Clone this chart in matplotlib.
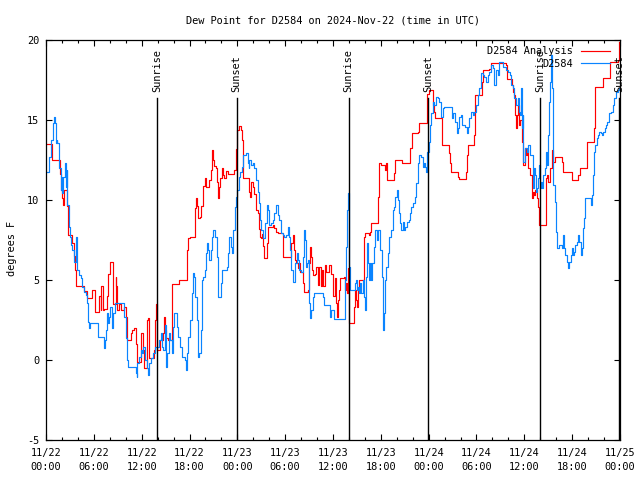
import matplotlib
matplotlib.use("Agg")
import matplotlib.pyplot as plt
from matplotlib.ticker import FixedLocator, MultipleLocator

# ---- data (hours since 2024-11-22 00:00 UTC, degrees F) ----
red_hours = [0.0, 0.6, 0.7, 1.6, 1.8, 1.9, 2.0, 2.1, 2.3, 2.5, 2.6, 2.7, 2.8, 3.1, 3.3, 3.5, 3.7, 3.8, 4.7, 4.8,
             5.1, 5.2, 5.6, 5.8, 6.0, 6.2, 6.4, 6.6, 6.9, 6.95, 7.1, 7.3, 7.5, 7.6, 7.8, 8.0, 8.3, 8.45, 8.6, 8.75,
             8.8, 8.95, 9.15, 9.35, 9.7, 9.8, 10.0, 10.1, 10.4, 10.6, 10.8, 11.0, 11.25, 11.45, 11.7, 11.9, 12.1, 12.2,
             12.3, 12.65, 12.7, 12.85, 12.9, 13.45, 13.55, 13.67, 13.8, 13.88, 14.1, 14.3, 14.5, 14.63, 14.8, 14.93,
             15.05, 15.35, 15.65, 15.75, 15.85, 16.6, 16.72, 17.65, 17.73, 17.85, 18.0, 18.57, 18.7, 18.82, 18.98,
             19.1, 19.3, 19.4, 19.53, 19.74, 19.95, 20.07, 20.36, 20.5, 20.66, 20.78, 20.9, 21.07, 21.33, 21.5, 21.62,
             21.74, 21.83, 22.04, 22.25, 22.37, 22.58, 22.87, 23.3, 23.63, 23.83, 24.0, 24.17, 24.34, 24.47, 24.59,
             24.68, 25.3, 25.43, 25.6, 25.72, 25.93, 26.14, 26.35, 26.56, 26.77, 26.85, 26.98, 27.1, 27.19, 27.4,
             27.6, 27.69, 27.81, 28.44, 28.65, 28.86, 29.07, 29.61, 29.7, 30.53, 30.74, 30.95, 31.08, 31.2, 31.37,
             31.58, 31.7, 31.87, 32.08, 32.2, 32.41, 32.83, 32.96, 33.12, 33.25, 33.38, 33.54, 33.71, 33.88, 34.09,
             34.3, 34.46, 34.63, 34.8, 34.97, 35.13, 35.34, 35.55, 35.76, 35.97, 36.05, 36.21, 36.38, 36.51, 36.63,
             36.8, 36.93, 37.34, 37.47, 37.64, 37.76, 37.89, 37.97, 38.47, 38.6, 38.72, 38.89, 39.02, 39.14, 39.23,
             39.73, 39.85, 39.98, 40.48, 40.69, 40.82, 41.53, 41.65, 41.82, 42.07, 42.36, 42.49, 42.66, 42.78, 43.41,
             43.62, 43.83, 44.45, 44.66, 45.58, 45.71, 45.92, 46.55, 46.67, 46.84, 47.67, 47.75, 47.85, 48.0, 48.31,
             48.52, 48.6, 48.73, 48.85, 49.56, 49.69, 50.52, 50.61, 50.73, 50.82, 51.65, 51.74, 51.86, 52.62, 52.7,
             52.82, 52.91, 53.54, 53.74, 53.87, 54.58, 54.71, 54.87, 55.63, 55.84, 57.72, 57.8, 58.35, 58.47, 58.64,
             58.76, 58.89, 58.97, 59.06, 59.18, 59.31, 59.47, 59.68, 59.89, 60.1, 60.22, 60.39, 60.52, 60.72, 60.93,
             61.06, 61.23, 61.35, 61.56, 61.77, 61.9, 62.61, 62.73, 62.9, 63.03, 63.23, 63.44, 63.65, 63.86, 64.57,
             64.7, 64.91, 65.74, 65.95, 66.66, 66.79, 67.0, 67.63, 67.83, 68.67, 68.75, 68.88, 69.72, 69.84, 70.68,
             70.76, 71.8, 71.93]
red_values = [13.5, 13.5, 12.5, 12.5, 11.6, 10.6, 10.1, 9.7, 10.6, 10.6, 9.6, 8.5, 7.8, 7.8, 7.3, 6.5, 5.6, 4.6, 4.6, 4.3,
              4.3, 3.9, 3.9, 4.4, 4.4, 3.0, 3.0, 4.0, 3.1, 4.6, 3.1, 3.2, 3.2, 4.0, 5.4, 6.1, 6.1, 3.5, 3.5, 5.2,
              4.6, 3.1, 3.5, 3.1, 3.1, 3.3, 2.7, 1.25, 1.25, 1.7, 1.9, 2.0, 1.0, -0.1, -0.1, 1.7, 1.7, 0.6,
              -0.5, -0.5, 2.5, 2.6, 0.1, 0.1, 0.6, 2.5, 3.5, 0.6, 0.6, 1.25, 1.25, 1.7, 2.7, 1.9,
              1.35, 1.25, 1.25, 3.85, 4.75, 4.75, 5.0, 5.0, 6.9, 7.6, 7.7, 7.7, 9.5, 10.1, 9.6,
              8.85, 8.95, 9.6, 9.6, 10.9, 11.35, 10.8, 10.8, 11.25, 11.9, 13.1, 12.5, 12.1, 12.0, 11.15, 10.1,
              10.8, 11.35, 12.0, 11.55, 11.35, 11.8, 11.65, 11.65, 11.9, 13.2, 14.4, 14.6, 14.6, 14.4, 13.75,
              11.35, 11.35, 10.5, 10.2, 11.15, 10.8, 10.4, 9.4, 9.2, 8.2, 7.7, 7.6, 7.9, 7.1, 6.35,
              6.35, 7.3, 8.33, 8.44, 8.23, 8.0, 7.96, 7.96, 6.46, 6.46, 7.3, 7.8, 6.9, 6.25, 6.04,
              5.73, 6.04, 5.5, 5.5, 4.8, 4.27, 4.4, 6.04, 7.08, 6.46, 5.6, 5.3, 5.4, 5.83, 4.7,
              5.83, 4.6, 5.6, 4.6, 5.94, 5.5, 5.5, 5.94, 5.4, 5.2, 4.0, 5.1, 3.54, 2.7, 3.75,
              4.38, 5.1, 5.2, 4.38, 4.8, 4.17, 5.73, 2.3, 2.33, 3.33, 4.38, 3.75, 3.33, 4.38, 5.0,
              5.0, 7.7, 7.92, 7.8, 8.02, 8.54, 8.58, 10.2, 12.29, 12.19, 12.19, 11.88, 12.29, 11.25, 11.25,
              11.67, 12.5, 12.5, 12.29, 12.29, 13.23, 14.17, 14.17, 14.27, 14.79, 14.83, 15.6, 16.6, 16.88, 16.88,
              16.77, 15.94, 15.52, 15.1, 15.1, 13.44, 13.44, 12.92, 12.29, 11.77, 11.77, 11.46, 11.29, 11.29, 11.77,
              12.81, 13.44, 13.44, 14.06, 16.56, 16.56, 17.4, 18.13, 18.19, 18.54, 18.44, 17.56, 17.56, 17.19, 16.77,
              16.56, 15.31, 14.48, 15.31, 15.94, 14.69, 15.0, 13.65, 12.19, 13.23, 12.81, 13.1, 11.98, 11.56, 10.1,
              10.52, 10.31, 10.6, 10.1, 9.58, 8.44, 8.44, 11.35, 11.56, 11.15, 11.98, 13.13, 12.4, 12.71, 12.71,
              12.4, 11.77, 11.77, 11.25, 11.25, 11.56, 11.98, 11.98, 13.65, 13.65, 14.48, 17.08, 17.08, 17.6, 17.65,
              18.65, 18.75, 19.9]

blue_hours = [0.08, 0.38, 0.67, 0.92, 1.0, 1.13, 1.21, 1.34, 1.42, 1.63, 1.84, 1.97, 2.05, 2.17, 2.34, 2.47, 2.59,
              2.68, 2.89, 3.01, 3.1, 3.3, 3.51, 3.72, 3.85, 3.93, 4.14, 4.35, 4.56, 4.77, 4.98, 5.19, 5.27, 5.4,
              5.52, 6.44, 6.52, 7.07, 7.28, 7.4, 7.49, 7.61, 7.78, 7.9, 8.03, 8.24, 8.45, 8.62, 9.7, 9.79, 10.0,
              10.2, 10.33, 11.04, 11.25, 11.38, 11.46, 11.67, 11.88, 12.0, 12.12, 12.29, 12.42, 12.63, 12.84, 12.96,
              13.13, 13.38, 13.67, 14.09, 14.22, 14.38, 14.51, 14.72, 14.93, 15.05, 15.22, 15.47, 15.55, 15.76,
              15.89, 16.06, 16.31, 16.47, 16.6, 16.81, 17.02, 17.44, 17.56, 17.73, 17.85, 18.06, 18.27, 18.48,
              18.61, 18.73, 18.9, 19.11, 19.23, 19.4, 19.53, 19.74, 19.95, 20.07, 20.24, 20.36, 20.49, 20.66,
              20.78, 20.99, 21.2, 21.41, 21.62, 21.83, 21.91, 22.04, 22.66, 22.87, 23.0, 23.17, 23.29, 23.5, 23.71,
              23.84, 23.97, 24.17, 24.34, 24.59, 24.76, 25.09, 25.3, 25.43, 25.51, 25.72, 25.93, 26.14, 26.35,
              26.56, 26.77, 26.85, 26.98, 27.19, 27.4, 27.52, 27.69, 27.81, 27.94, 28.02, 28.23, 28.44, 28.65,
              28.86, 29.07, 29.28, 29.49, 29.7, 29.9, 30.11, 30.32, 30.45, 30.62, 30.74, 30.95, 31.16, 31.28,
              31.45, 31.58, 31.79, 32.0, 32.2, 32.41, 32.54, 32.62, 32.71, 32.83, 32.96, 33.04, 33.17, 33.29,
              33.46, 33.67, 34.63, 34.71, 34.92, 35.47, 35.63, 35.76, 35.97, 36.09, 37.34, 37.47, 37.64, 37.76,
              37.85, 37.97, 38.18, 38.6, 38.72, 38.89, 39.02, 39.14, 39.31, 39.43, 39.56, 39.73, 39.85, 40.06,
              40.15, 40.27, 40.4, 40.56, 40.69, 40.82, 40.9, 41.11, 41.32, 41.53, 41.65, 41.82, 41.94, 42.15,
              42.28, 42.4, 42.49, 42.66, 42.91, 43.07, 43.32, 43.49, 43.66, 43.83, 44.04, 44.16, 44.33, 44.45,
              44.58, 44.75, 44.87, 45.08, 45.29, 45.5, 45.71, 45.83, 46.0, 46.25, 46.42, 46.67, 46.84, 47.09,
              47.26, 47.42, 47.59, 47.68, 47.81, 48.01, 48.18, 48.31, 48.52, 48.73, 48.93, 49.14, 49.35, 49.56,
              49.77, 49.98, 50.82, 50.94, 51.11, 51.36, 51.53, 51.65, 51.86, 52.07, 52.2, 52.36, 52.62, 52.78,
              52.95, 53.12, 53.33, 53.54, 53.74, 53.95, 54.16, 54.37, 54.58, 54.79, 55.0, 55.21, 55.42, 55.63,
              55.84, 56.04, 56.25, 56.46, 56.67, 56.88, 57.09, 57.3, 57.72, 57.93, 58.14, 58.35, 58.55, 58.76,
              58.97, 59.18, 59.39, 59.47, 59.6, 59.68, 59.8, 59.89, 60.1, 60.31, 60.52, 60.72, 61.06, 61.14,
              61.27, 61.35, 61.48, 61.64, 61.77, 61.9, 61.98, 62.06, 62.19, 62.4, 62.61, 62.73, 62.9, 63.03,
              63.15, 63.23, 63.32, 63.44, 63.57, 63.65, 63.86, 63.99, 64.15, 64.41, 64.7, 64.82, 64.99, 65.12,
              65.33, 65.45, 65.66, 65.83, 65.95, 66.08, 66.25, 66.37, 66.58, 66.79, 66.91, 67.08, 67.21, 67.33,
              67.5, 67.63, 68.25, 68.38, 68.46, 68.59, 68.75, 68.88, 69.09, 69.3, 69.42, 69.59, 69.72, 69.93,
              70.14, 70.26, 70.43, 70.68, 70.85, 71.1, 71.27, 71.52, 71.69, 71.93]
blue_values = [11.77, 12.71, 13.75, 14.79, 15.21, 14.79, 13.54, 13.75, 13.54, 11.98, 10.6, 11.46, 10.42, 11.46, 12.29,
               10.83, 11.88, 9.69, 8.33, 7.7, 7.19, 6.9, 6.15, 7.7, 6.46, 5.63, 5.31, 5.1, 4.58, 4.27, 4.06, 3.54,
               2.4, 1.98, 2.29, 2.29, 1.46, 1.46, 0.73, 1.25, 1.88, 2.92, 2.29, 2.71, 3.33, 1.98, 2.92, 3.54, 3.54,
               2.71, 1.35, 0.0, -0.42, -0.42, -0.83, -1.04, -0.21, 0.21, 0.63, 0.42, 0.83, 0.83, 0.0, -0.52, -0.94,
               -0.21, 0.1, 0.42, 0.83, 0.83, 1.25, 1.67, 0.83, 0.63, 2.19, -0.42, 0.42, 1.67, 1.25, 0.42, 2.08,
               2.92, 2.92, 2.08, 1.46, 0.83, 0.21, 0.0, -0.63, 0.42, 1.46, 2.5, 4.17, 5.42, 5.21, 3.96, 2.5, 0.21,
               0.42, 1.88, 5.0, 5.21, 5.63, 6.67, 7.29, 6.88, 6.25, 6.88, 7.71, 8.13, 7.71, 6.46, 3.96, 3.96, 4.79,
               5.63, 5.83, 6.67, 7.71, 7.08, 6.67, 8.13, 9.58, 10.2, 10.6, 11.46, 11.77, 12.08, 12.81, 12.92, 12.29,
               11.98, 12.5, 12.19, 12.29, 11.98, 11.25, 10.52, 9.79, 8.75, 8.13, 7.6, 7.6, 8.54, 9.69, 9.38, 9.17,
               8.44, 8.54, 8.75, 9.17, 9.69, 9.06, 8.75, 7.92, 7.81, 7.71, 7.81, 8.33, 7.71, 6.88, 5.63, 4.9, 4.9,
               6.04, 6.67, 6.25, 5.63, 5.52, 6.46, 8.13, 7.5, 5.83, 6.04, 6.25, 5.42, 3.54, 2.6, 3.13, 3.96, 4.17,
               4.17, 3.96, 3.44, 3.44, 2.71, 3.13, 3.13, 2.54, 2.54, 5.0, 7.08, 9.38, 10.42, 5.83, 4.38, 4.38, 4.79,
               5.0, 4.38, 4.58, 4.17, 4.79, 4.17, 5.0, 3.96, 3.13, 5.21, 7.29, 6.04, 5.0, 6.04, 5.0, 6.04, 7.08,
               8.13, 7.5, 8.13, 8.13, 6.88, 5.21, 1.88, 2.92, 5.0, 5.83, 6.67, 7.71, 8.13, 9.38, 9.58, 10.21,
               10.63, 10.0, 9.17, 8.54, 8.13, 8.65, 8.13, 8.33, 8.65, 8.75, 9.17, 9.58, 9.79, 10.21, 11.04, 12.29,
               12.81, 12.71, 12.08, 12.29, 12.08, 11.77, 13.02, 13.65, 14.69, 15.42, 16.15, 15.94, 16.46, 16.35,
               16.15, 15.21, 15.73, 15.83, 15.83, 15.1, 15.42, 14.9, 14.17, 14.48, 15.21, 15.31, 14.69, 14.69,
               14.58, 14.17, 14.58, 15.1, 15.52, 15.31, 15.52, 15.94, 16.56, 16.98, 17.92, 17.81, 17.71, 17.4,
               17.81, 18.02, 18.44, 18.23, 17.19, 18.13, 17.81, 18.65, 18.65, 18.33, 18.13, 18.02, 17.81, 17.19,
               16.98, 16.35, 15.94, 16.35, 15.52, 15.31, 16.98, 14.48, 15.31, 12.4, 13.23, 13.02, 13.44, 12.81,
               12.6, 10.73, 11.98, 11.56, 10.52, 10.73, 11.35, 12.19, 10.73, 11.15, 10.73, 11.56, 11.98, 13.02,
               12.19, 14.06, 16.15, 17.4, 19.06, 16.98, 12.6, 10.94, 9.9, 8.02, 6.98, 7.19, 6.98, 7.81, 6.98, 6.56,
               6.15, 5.73, 6.15, 6.56, 6.98, 6.56, 6.77, 7.19, 7.4, 7.81, 7.4, 6.56, 6.98, 8.23, 8.85, 10.1, 10.1,
               9.69, 10.31, 11.56, 13.02, 13.44, 13.85, 14.06, 14.27, 14.17, 14.06, 14.27, 14.48, 14.69, 14.9,
               15.42, 15.52, 15.94, 16.35, 16.77, 16.88, 16.98]

sun_hours = [13.97, 23.92, 37.97, 47.92, 61.98, 71.92]
sun_labels = ["Sunrise", "Sunset", "Sunrise", "Sunset", "Sunrise", "Sunset"]

xtick_hours = [0, 6, 12, 18, 24, 30, 36, 42, 48, 54, 60, 66, 72]
xtick_labels = ["11/22\n00:00", "11/22\n06:00", "11/22\n12:00", "11/22\n18:00",
                "11/23\n00:00", "11/23\n06:00", "11/23\n12:00", "11/23\n18:00",
                "11/24\n00:00", "11/24\n06:00", "11/24\n12:00", "11/24\n18:00",
                "11/25\n00:00"]
ytick_values = [-5, 0, 5, 10, 15, 20]

series_labels = ["D2584 Analysis", "D2584"]
title = "Dew Point for D2584 on 2024-Nov-22 (time in UTC)"
ylabel = "degrees F"

# ---- plot ----
plt.rcParams['font.family'] = ['DejaVu Sans Mono']
FS = 7.4

fig = plt.figure(figsize=(6.4, 4.8), dpi=100)
ax = fig.add_axes([46 / 640, 40 / 480, 574 / 640, 400 / 480])

ax.plot(red_hours, red_values, color='#ff0000', lw=0.85, drawstyle='steps-post', label=series_labels[0])
ax.plot(blue_hours, blue_values, color='#0a84ff', lw=0.85, drawstyle='steps-post', label=series_labels[1])

for h, lab in zip(sun_hours, sun_labels):
    ax.axvline(h, ymin=0, ymax=0.855, color='black', lw=1.0)
    ax.text(h, 16.75, lab, rotation=90, ha='center', va='bottom', fontsize=FS)

ax.set_xlim(0, 72)
ax.set_ylim(-5, 20)
ax.xaxis.set_major_locator(FixedLocator(xtick_hours))
ax.set_xticklabels(xtick_labels, fontsize=FS, linespacing=1.5)
ax.xaxis.set_minor_locator(MultipleLocator(2))
ax.set_yticks(ytick_values)
ax.set_yticklabels([str(v) for v in ytick_values], fontsize=FS)
ax.tick_params(which='major', direction='in', length=4.5, width=0.8, top=True, right=True, pad=5)
ax.tick_params(which='minor', direction='in', length=2.2, width=0.8, top=True, right=True)
ax.tick_params(axis='x', which='major', pad=6)
for s in ax.spines.values():
    s.set_linewidth(0.9)

ax.set_title(title, fontsize=FS, pad=12)
fig.text(12 / 640, 1 - 248 / 480, ylabel, rotation=90, ha='center', va='center', fontsize=FS)

leg = ax.legend(loc='upper right', bbox_to_anchor=(1 - 6 / 574, 1 - 2 / 400), frameon=False, markerfirst=False,
                fontsize=FS, handlelength=2.8, handletextpad=0.8, labelspacing=0.28, borderaxespad=0.2,
                borderpad=0.2)

fig.savefig("out.png", dpi=100)
